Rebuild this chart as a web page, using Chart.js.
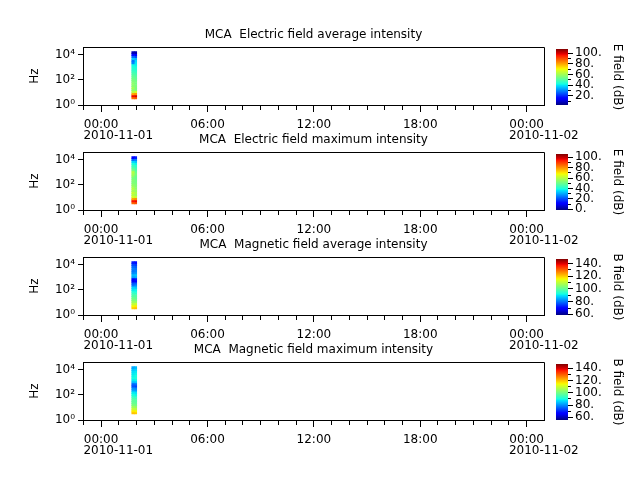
<!DOCTYPE html>
<html>
<head>
<meta charset="utf-8">
<script src="https://cdn.jsdelivr.net/npm/chart.js@4.4.0/dist/chart.umd.min.js"></script>
<style>
body { margin: 0; background: #fff; }
#wrap { position: relative; width: 640px; height: 480px; overflow: hidden; }
canvas { position: absolute; }
</style>
</head>
<body>
<div id="wrap"></div>
<script>
// frequency channel edges (Hz), bottom to top -> 23 channels
const freqEdges = [3.0, 4.4, 6.4, 9.3, 13.6, 19.8, 28.9, 42, 61, 89, 130, 189, 275, 402, 585, 851, 1240, 1810, 2630, 3840, 5580, 8130, 11900, 17300];
// centre of each time column, hours after 2010-11-01 00:00
const times = [1.80, 1.94];

// dB values per column, lowest channel first
const eAvg = [
  [86, 98, 80, 63, 58, 60, 57, 58, 56, 55, 53, 51, 49, 47, 45, 44, 42, 30, 28, 37, 27, 17, 8],
  [88, 100, 82, 66, 56, 55, 56, 54, 55, 53, 52, 50, 48, 46, 44, 43, 41, 40, 38, 35, 24, 16, 7]
];
const eMax = [
  [85, 95, 78, 64, 60, 62, 58, 60, 57, 55, 53, 54, 52, 55, 58, 60, 52, 48, 44, 40, 35, 24, 12],
  [87, 96, 80, 62, 57, 58, 56, 55, 54, 53, 52, 51, 50, 50, 52, 50, 47, 45, 42, 38, 33, 26, 15]
];
const bAvg = [
  [120, 116, 110, 106, 103, 101, 98, 96, 93, 90, 88, 80, 77, 68, 70, 84, 86, 82, 80, 81, 79, 76, 72],
  [121, 117, 111, 105, 102, 100, 99, 95, 92, 91, 87, 82, 78, 70, 72, 85, 87, 83, 81, 80, 78, 75, 71]
];
const bMax = [
  [120, 116, 109, 105, 101, 99, 98, 96, 93, 90, 88, 82, 80, 74, 76, 84, 88, 90, 89, 88, 87, 85, 82],
  [119, 115, 108, 104, 100, 98, 97, 95, 92, 89, 87, 81, 79, 73, 77, 85, 89, 91, 90, 89, 88, 86, 84]
];

const titles = [
  'MCA  Electric field average intensity',
  'MCA  Electric field maximum intensity',
  'MCA  Magnetic field average intensity',
  'MCA  Magnetic field maximum intensity'
];
const cbLabels = ['E field (dB)', 'E field (dB)', 'B field (dB)', 'B field (dB)'];
const cbRanges = [[3, 108], [-1.3, 106.4], [59, 147], [55.6, 147]];
const cbTicks = [
  [10, 20, 30, 40, 50, 60, 70, 80, 90, 100],
  [0, 10, 20, 30, 40, 50, 60, 70, 80, 90, 100],
  [60, 70, 80, 90, 100, 110, 120, 130, 140],
  [60, 70, 80, 90, 100, 110, 120, 130, 140]
];
const panels = [eAvg, eMax, bAvg, bMax];

const xMajorHours = [0, 6, 12, 18, 24];
const xMajorLabels = [['00:00', '         2010-11-01'], '06:00', '12:00', '18:00', ['00:00', '         2010-11-02']];
const yTickValues = [1, 10, 100, 1000, 10000];
const yTickLabels = ['10\u2070', '', '10\u00b2', '', '10\u2074'];

Chart.defaults.font.family = 'DejaVu Sans';
Chart.defaults.font.size = 12;
Chart.defaults.color = '#000';

const jetR = [[0, 0], [0.35, 0], [0.66, 1], [0.89, 1], [1, 0.5]];
const jetG = [[0, 0], [0.125, 0], [0.375, 1], [0.64, 1], [0.91, 0], [1, 0]];
const jetB = [[0, 0.5], [0.11, 1], [0.34, 1], [0.65, 0], [1, 0]];
function interp(pts, f) {
  for (let i = 1; i < pts.length; i++) {
    if (f <= pts[i][0]) {
      const [x0, y0] = pts[i - 1], [x1, y1] = pts[i];
      return y0 + (y1 - y0) * (f - x0) / (x1 - x0);
    }
  }
  return pts[pts.length - 1][1];
}
function jet(f) {
  f = Math.min(1, Math.max(0, f));
  return 'rgb(' + Math.round(255 * interp(jetR, f)) + ',' + Math.round(255 * interp(jetG, f)) + ',' + Math.round(255 * interp(jetB, f)) + ')';
}

// top and right edge of the plot frame
const frame = {
  id: 'frame',
  afterDraw(chart) {
    const { ctx, chartArea: a } = chart;
    ctx.save();
    ctx.strokeStyle = '#000';
    ctx.lineWidth = 1;
    ctx.beginPath();
    ctx.moveTo(Math.round(a.left) + 0.5, Math.round(a.top) + 0.5);
    ctx.lineTo(Math.round(a.right) + 0.5, Math.round(a.top) + 0.5);
    ctx.lineTo(Math.round(a.right) + 0.5, Math.round(a.bottom) + 0.5);
    ctx.stroke();
    ctx.restore();
  }
};

function addCanvas(left, top, w, h) {
  const c = document.createElement('canvas');
  c.width = w; c.height = h;
  c.style.left = left + 'px'; c.style.top = top + 'px';
  c.style.width = w + 'px'; c.style.height = h + 'px';
  document.getElementById('wrap').appendChild(c);
  return c;
}

panels.forEach((vals, i) => {
  const [lo, hi] = cbRanges[i];
  const c = addCanvas(0, 22 + 105 * i, 627, 125);
  new Chart(c, {
    type: 'bar',
    data: {
      datasets: times.map((t, j) => ({
        data: freqEdges.slice(0, -1).map((f, k) => ({ x: t, y: [f, freqEdges[k + 1]] })),
        backgroundColor: vals[j].map(v => jet((v - lo) / (hi - lo))),
        borderWidth: 0,
        barPercentage: 1,
        categoryPercentage: 1,
        grouped: false
      }))
    },
    options: {
      responsive: false,
      animation: false,
      devicePixelRatio: 1,
      layout: { padding: { left: 0, right: 83, top: 0, bottom: 0 } },
      plugins: {
        legend: { display: false },
        tooltip: { enabled: false },
        title: {
          display: true, fullSize: false, text: titles[i], color: '#000',
          font: { size: 12, weight: 'normal' },
          padding: { top: 5.4, bottom: 5.4 }
        }
      },
      scales: {
        x: {
          type: 'linear', min: -1.02, max: 24.98, offset: false,
          afterBuildTicks: s => {
            const t = [];
            for (let h = -1; h <= 24; h++) t.push({ value: h });
            s.ticks = t;
          },
          afterFit: s => { s.height = 42; },
          grid: {
            offset: false, drawOnChartArea: false, tickLength: 7, color: '#000',
            tickBorderDash: ctx => (ctx.tick && xMajorHours.includes(ctx.tick.value)) ? [] : [4, 40]
          },
          border: { color: '#000' },
          ticks: {
            autoSkip: false, maxRotation: 0, padding: 7, color: '#000',
            font: { size: 12, lineHeight: 0.92 },
            callback: v => {
              const m = xMajorHours.indexOf(v);
              return m >= 0 ? xMajorLabels[m] : '';
            }
          }
        },
        y: {
          type: 'logarithmic', min: 1, max: 38000,
          afterBuildTicks: s => { s.ticks = yTickValues.map(v => ({ value: v })); },
          afterFit: s => { s.width = 83; },
          grid: {
            drawOnChartArea: false, tickLength: 5, color: '#000',
            tickBorderDash: ctx => (ctx.index % 2 === 0) ? [] : [3, 40]
          },
          border: { color: '#000' },
          title: {
            display: true, text: 'Hz', color: '#000',
            font: { size: 12 }, padding: { top: 27.8, bottom: 0 }
          },
          ticks: {
            padding: 3, color: '#000', font: { size: 12 },
            callback: (v, idx) => yTickLabels[idx]
          }
        }
      }
    },
    plugins: [frame]
  });

  // colour bar
  const cb = addCanvas(540, 37 + 105 * i, 100, 80);
  new Chart(cb, {
    type: 'bar',
    data: {
      labels: [''],
      datasets: [{
        data: [[lo, hi]],
        backgroundColor: ctx => {
          const a = ctx.chart.chartArea;
          if (!a) return null;
          const g = ctx.chart.ctx.createLinearGradient(0, a.bottom, 0, a.top);
          [0, 0.11, 0.125, 0.34, 0.35, 0.375, 0.64, 0.65, 0.66, 0.89, 0.91, 1].forEach(s => g.addColorStop(s, jet(s)));
          return g;
        },
        borderWidth: 0,
        barPercentage: 1,
        categoryPercentage: 1
      }]
    },
    options: {
      responsive: false,
      animation: false,
      devicePixelRatio: 1,
      layout: { padding: { left: 16, right: 0, top: 12, bottom: 12 } },
      plugins: { legend: { display: false }, tooltip: { enabled: false } },
      scales: {
        x: { display: false },
        y: {
          position: 'right', min: lo, max: hi,
          afterBuildTicks: s => { s.ticks = cbTicks[i].map(v => ({ value: v })); },
          afterFit: s => { s.width = 72; },
          grid: {
            drawOnChartArea: false, tickLength: 5, color: '#000',
            tickBorderDash: ctx => (ctx.tick && ctx.tick.value % 20 === 0) ? [] : [3, 40]
          },
          border: { display: false },
          title: {
            display: true, text: cbLabels[i], color: '#000',
            font: { size: 12 }, padding: { top: 15.8, bottom: 0 }
          },
          ticks: {
            autoSkip: false, padding: 2, color: '#000', font: { size: 12 },
            callback: v => (v % 20 === 0 ? v + '.' : '')
          }
        }
      }
    }
  });
});
</script>
</body>
</html>
